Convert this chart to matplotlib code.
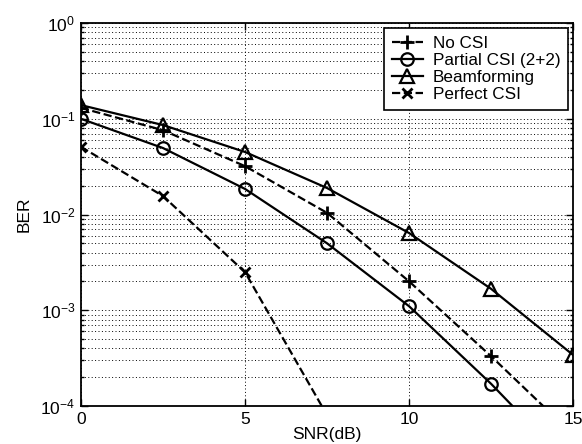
import matplotlib
matplotlib.use("Agg")
import matplotlib.pyplot as plt
from matplotlib.ticker import LogLocator, NullFormatter, FixedLocator

plt.rcParams['font.family'] = ['Liberation Sans', 'DejaVu Sans']
plt.rcParams['mathtext.fontset'] = 'custom'
plt.rcParams['mathtext.rm'] = 'Liberation Sans'

snr = [0, 2.5, 5, 7.5, 10, 12.5, 15]
no_csi = [0.13, 0.076, 0.032, 0.0104, 0.002, 0.00033, 5e-5]
partial_csi = [0.1, 0.0495, 0.0185, 0.005, 0.0011, 0.00017, 2.2e-5]
beamforming = [0.139, 0.086, 0.045, 0.0189, 0.0064, 0.00167, 0.00034]
perfect_snr = [0, 2.5, 5, 7.5]
perfect_csi = [0.051, 0.0156, 0.0025, 8e-5]

labels = ['No CSI', 'Partial CSI (2+2)', 'Beamforming', 'Perfect CSI']
xticks = [0, 5, 10, 15]

fig = plt.figure(figsize=(5.82, 4.44), dpi=100)
ax = fig.add_axes([0.139, 0.0856, 0.846, 0.8625])

lw = 1.6
ms = 9
ax.plot(snr, no_csi, color='black', ls='--', lw=lw, marker='+', ms=ms + 1, mew=2, label=labels[0])
ax.plot(snr, partial_csi, color='black', ls='-', lw=lw, marker='o', ms=ms, mfc='none', mew=1.6, label=labels[1])
ax.plot(snr, beamforming, color='black', ls='-', lw=lw, marker='^', ms=ms + 1, mfc='none', mew=1.6, label=labels[2])
ax.plot(perfect_snr, perfect_csi, color='black', ls='--', lw=lw, marker='x', ms=ms - 1.5, mew=2, label=labels[3])

ax.set_yscale('log')
ax.set_xlim(0, 15)
ax.set_ylim(1e-4, 1)
ax.xaxis.set_major_locator(FixedLocator(xticks))
ax.set_xticklabels([str(t) for t in xticks])
ax.yaxis.set_major_locator(LogLocator(base=10, numticks=10))
ax.yaxis.set_minor_locator(LogLocator(base=10, subs=range(2, 10), numticks=20))
ax.yaxis.set_minor_formatter(NullFormatter())

ax.grid(True, which='major', axis='both', color='black', ls=(0, (1, 2.5)), lw=0.7)
ax.grid(True, which='minor', axis='y', color='black', ls=(0, (1, 2.5)), lw=0.7)

ax.tick_params(which='both', direction='in', top=True, right=True, labelsize=12.5, width=1)
ax.tick_params(which='major', length=5, pad=4)
ax.tick_params(which='minor', length=2.5)
for s in ax.spines.values():
    s.set_linewidth(1.3)

ax.set_xlabel('SNR(dB)', fontsize=12.5, labelpad=0)
ax.set_ylabel('BER', fontsize=12.5, labelpad=6)

leg = ax.legend(loc='upper right', fontsize=12.3, frameon=True, fancybox=False,
                edgecolor='black', framealpha=1, handlelength=1.8, handletextpad=0.6,
                borderaxespad=0.3, labelspacing=0.12, borderpad=0.45)
leg.get_frame().set_linewidth(1.2)

fig.savefig('out.png', dpi=100)
